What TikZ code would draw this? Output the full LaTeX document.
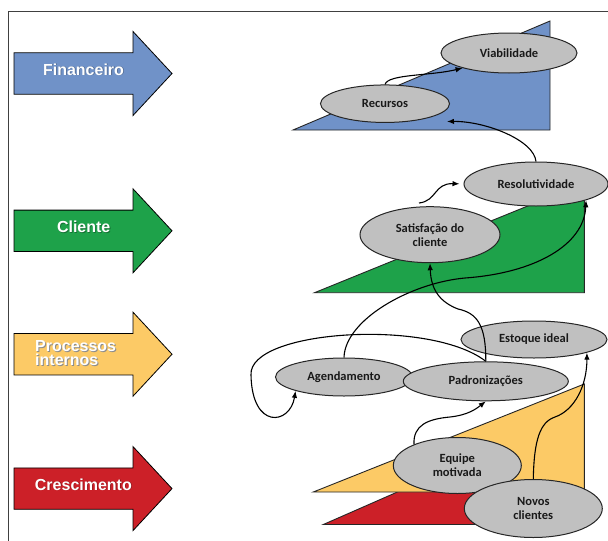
\documentclass[tikz,border=0pt]{standalone}
\usepackage{fontspec}
\usetikzlibrary{shapes.geometric,arrows.meta}
\newfontfamily\arialf{Liberation Sans}
\newfontfamily\calib{Carlito}
\definecolor{fblue}{RGB}{112,146,200}
\definecolor{fgreen}{RGB}{30,162,74}
\definecolor{fyellow}{RGB}{252,202,102}
\definecolor{fred}{RGB}{204,32,40}
\definecolor{ovalgray}{RGB}{192,192,192}
\tikzset{
  pics/bigarr/.style={code={
    \draw[bigarrow,fill=#1] (14,-20.7) -- (133,-20.7) -- (133,-42) -- (172,0)
      -- (133,42) -- (133,20.7) -- (14,20.7) -- cycle;}}
}
\begin{document}
\begin{tikzpicture}[x=1pt,y=-1pt,
  frame/.style={draw=black!75,line width=1pt},
  bigarrow/.style={draw=black,line width=0.8pt,line join=miter},
  tri/.style={draw=black!85,line width=0.9pt,line join=miter},
  oval/.style={ellipse,draw=black!85,line width=1pt,fill=ovalgray,inner sep=0pt,
    font=\calib\bfseries\fontsize{12.5}{14}\selectfont,text=black!90,align=center},
  conn/.style={draw=black,line width=1.1pt,-{Latex[length=7pt,width=5.5pt]}},
  lbl/.style={font=\arialf\bfseries\fontsize{16}{14}\selectfont,inner sep=0pt,anchor=base,text=white},
  lblsh/.style={lbl,text=black,opacity=0.3},
  plbl/.style={font=\arialf\bfseries\fontsize{16}{14}\selectfont,inner sep=0pt,anchor=base west,text=white},
  plblsh/.style={plbl,text=black!45}
]
\useasboundingbox (0,0) rectangle (608,541);
\fill[white] (0,0) rectangle (608,541);
\draw[frame] (8.5,541) -- (8.5,11.5) -- (608,11.5);

% left arrows
\pic (afin) at (0,73.5) {bigarr=fblue};
\pic (acli) at (0,230.8) {bigarr=fgreen};
\pic (apro) at (0,354.2) {bigarr=fyellow};
\pic (acre) at (0,488.6) {bigarr=fred};

\node[lblsh] (finsh) at (84.3,75.8) {Financeiro};
\node[lbl] (fin) at (83.5,75) {Financeiro};
\node[lblsh] (clish) at (84.5,233.1) {Cliente};
\node[lbl] (cli) at (83.7,232.3) {Cliente};
\node[lblsh] (cresh) at (84.2,490.8) {Crescimento};
\node[lbl] (cre) at (83.4,490) {Crescimento};
\node[plblsh] (prosh) at (36,352.7) {\vtop{\baselineskip=14pt\hbox{Processos}\hbox{internos}}};
\node[plbl] (pro) at (35,351.7) {\vtop{\baselineskip=14pt\hbox{Processos}\hbox{internos}}};

% triangles
\draw[tri,fill=fblue] (293,130) -- (550,130) -- (550,21) -- cycle;
\draw[tri,fill=fgreen] (314.5,292.7) -- (584.3,292.7) -- (584.3,183) -- cycle;
\draw[tri,fill=fred] (323.3,524.5) -- (584.3,524.5) -- (584.3,410) -- cycle;
\draw[tri,fill=fyellow] (313.3,492) -- (584.3,492) -- (584.3,384) -- cycle;

% ellipses
\node[oval,minimum width=136pt,minimum height=40pt] (via) at (509,53) {Viabilidade};
\node[oval,minimum width=129pt,minimum height=37.5pt] (rec) at (385,103.7) {Recursos};
\node[oval,minimum width=144pt,minimum height=44pt] (res) at (536,184) {Resolutividade};
\node[oval,minimum width=140pt,minimum height=56pt] (sat) at (430,234.7) {Satisfação do\\cliente};
\node[oval,minimum width=146pt,minimum height=37pt] (est) at (534,339.5) {Estoque ideal};
\node[oval,minimum width=137pt,minimum height=38pt] (age) at (344,377) {Agendamento};
\node[oval,minimum width=165pt,minimum height=39pt] (pad) at (485.8,381.3) {Padronizações};
\node[oval,minimum width=128pt,minimum height=56pt] (equ) at (457.3,465.5) {Equipe\\motivada};
\node[oval,minimum width=138pt,minimum height=58pt] (nov) at (533.3,508.5) {Novos\\clientes};

% free ends
\coordinate (sw) at (419,203);
\coordinate (recin) at (447,121.5);

% connectors
\draw[conn] (rec.north) .. controls (388,74) and (430,76) .. (via.198);
\draw[conn] (res.north) .. controls (534,140) and (485,121) .. (recin);
\draw[conn,shorten >=4pt] (sw) .. controls (437,201) and (434,183) .. (res.west);
\draw[conn] (age.north) .. controls (345,320) and (410,283) .. (465,278)
  .. controls (535,273) and (584,245) .. (res.-18);
\draw[conn] (pad.north) .. controls (486,325) and (477,313) .. (458,309)
  .. controls (440,302) and (431,290) .. (sat.south);
\draw[conn] (pad.north) .. controls (430,318) and (248,330) .. (251,375)
  .. controls (252,430) and (290,425) .. (age.196);
\draw[conn] (equ.154) .. controls (413,425) and (428,419) .. (450,417)
  .. controls (468,415) and (476,409) .. (pad.south);
\draw[conn] (nov.north) .. controls (534,440) and (540,422) .. (555,417)
  .. controls (575,410) and (587,385) .. (est.-14);
\end{tikzpicture}
\end{document}
